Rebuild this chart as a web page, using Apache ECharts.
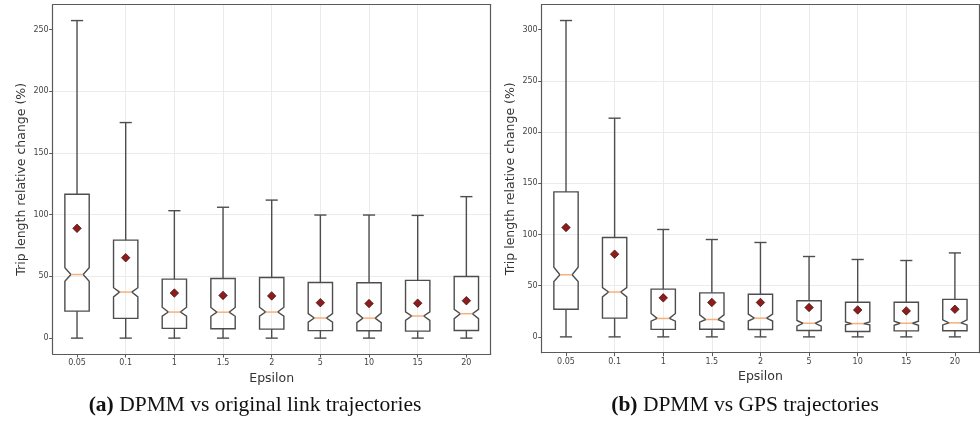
<!DOCTYPE html>
<html>
<head>
<meta charset="utf-8">
<script src="https://cdn.jsdelivr.net/npm/echarts@6/dist/echarts.min.js"></script>
<style>html,body{margin:0;padding:0;background:#fff;}#c{width:980px;height:421px;}</style>
</head>
<body>
<div id="c"></div>
<script>
const categories = ['0.05', '0.1', '1', '1.5', '2', '5', '10', '15', '20'];
const yTicksA = [0, 50, 100, 150, 200, 250];
const yTicksB = [0, 50, 100, 150, 200, 250, 300];

// Panel (a): DPMM vs original link trajectories
const lowA     = [0, 0, 0, 0, 0, 0, 0, 0, 0];
const q1A      = [21.9, 16.0, 7.9, 7.6, 7.3, 6.1, 6.0, 5.7, 6.2];
const notchLoA = [46.0, 33.4, 17.8, 17.7, 17.8, 13.0, 12.6, 14.4, 15.8];
const medianA  = [51.5, 37.3, 21.1, 21.0, 21.1, 16.3, 16.2, 17.9, 19.8];
const notchHiA = [57.0, 40.8, 25.0, 24.8, 25.0, 19.8, 20.3, 21.2, 23.3];
const q3A      = [116.5, 79.4, 47.8, 48.3, 49.1, 45.1, 44.9, 46.8, 49.9];
const highA    = [257.2, 174.6, 103.2, 106.0, 111.8, 99.7, 99.7, 99.4, 114.6];
const meanA    = [88.9, 65.1, 36.5, 34.6, 34.2, 28.7, 28.0, 28.3, 30.3];

// Panel (b): DPMM vs GPS trajectories
const lowB     = [0, 0, 0, 0, 0, 0, 0, 0, 0];
const q1B      = [27.0, 18.3, 7.3, 7.4, 7.2, 6.2, 5.3, 5.9, 6.0];
const notchLoB = [54.0, 39.0, 15.3, 14.4, 15.5, 10.5, 11.7, 11.4, 11.7];
const medianB  = [60.7, 43.8, 18.0, 17.0, 18.3, 13.3, 13.0, 13.3, 13.7];
const notchHiB = [68.0, 48.2, 22.8, 21.5, 22.3, 16.0, 14.6, 15.3, 16.6];
const q3B      = [141.6, 97.0, 46.6, 43.0, 41.6, 35.3, 33.8, 33.8, 36.6];
const highB    = [309.0, 213.6, 104.9, 95.1, 92.2, 78.5, 75.6, 74.6, 82.0];
const meanB    = [106.8, 80.8, 38.1, 33.6, 33.6, 28.7, 26.3, 25.4, 27.0];

const LINE = '#4d4d4d';
const FRAME = '#5a5a5a';
const GRIDC = '#ebebeb';
const MEDC = '#f7b07a';
const SANS = 'DejaVu Sans';
const SERIF = 'Liberation Serif';

function boxData(low, q1, nlo, med, nhi, q3, high) {
  return categories.map((_, i) => [i + 1, low[i], q1[i], nlo[i], med[i], nhi[i], q3[i], high[i]]);
}
function meanData(mean) { return categories.map((_, i) => [i + 1, mean[i]]); }
function extent(low, high) {
  const lo = Math.min(...low), hi = Math.max(...high), r = hi - lo;
  return [lo - 0.05 * r, hi + 0.05 * r];
}

function renderBox(params, api) {
  const x = api.value(0);
  const c = v => api.coord([x, v]);
  const w = api.size([0.5, 0])[0];
  const h = w / 2, qw = w / 4;
  const cx = c(api.value(4))[0];
  const yLow = c(api.value(1))[1], yQ1 = c(api.value(2))[1], yNlo = c(api.value(3))[1];
  const yMed = c(api.value(4))[1], yNhi = c(api.value(5))[1], yQ3 = c(api.value(6))[1];
  const yHigh = c(api.value(7))[1];
  const xl = cx - h, xr = cx + h;
  const pts = [[xl, yQ1], [xl, yNlo], [cx - qw, yMed], [xl, yNhi], [xl, yQ3],
               [xr, yQ3], [xr, yNhi], [cx + qw, yMed], [xr, yNlo], [xr, yQ1]];
  const ls = { stroke: LINE, lineWidth: 1.4, fill: null };
  return {
    type: 'group',
    children: [
      { type: 'polygon', shape: { points: pts }, style: ls },
      { type: 'line', shape: { x1: cx, y1: yQ1, x2: cx, y2: yLow }, style: ls },
      { type: 'line', shape: { x1: cx, y1: yQ3, x2: cx, y2: yHigh }, style: ls },
      { type: 'line', shape: { x1: cx - qw, y1: yLow, x2: cx + qw, y2: yLow }, style: ls },
      { type: 'line', shape: { x1: cx - qw, y1: yHigh, x2: cx + qw, y2: yHigh }, style: ls },
      { type: 'line', shape: { x1: cx - qw, y1: yMed, x2: cx + qw, y2: yMed }, style: { stroke: MEDC, lineWidth: 1.5 } }
    ]
  };
}

function mainX(gi) {
  return {
    type: 'value', gridIndex: gi, min: 0.5, max: 9.5, splitNumber: 9, minInterval: 1, maxInterval: 1,
    axisLine: { show: true, onZero: false, lineStyle: { color: FRAME, width: 1.2 } },
    axisTick: { show: true, length: 3.5, customValues: categories.map((_, i) => i + 1), lineStyle: { color: FRAME } },
    axisLabel: {
      customValues: categories.map((_, i) => i + 1),
      formatter: v => (Math.abs(v - Math.round(v)) < 1e-6 ? categories[Math.round(v) - 1] || '' : ''),
      fontFamily: SANS, fontSize: 8, color: '#444', margin: 5
    },
    splitLine: { show: true, showMinLine: false, showMaxLine: false, lineStyle: { color: GRIDC, width: 1 } },
    name: 'Epsilon', nameLocation: 'middle', nameGap: 12,
    nameTextStyle: { fontFamily: SANS, fontSize: 12.5, color: '#333' }, z: 3
  };
}
function mainY(gi, ext, ticks) {
  return {
    type: 'value', gridIndex: gi, min: ext[0], max: ext[1], minInterval: 50, maxInterval: 50,
    axisLine: { show: true, onZero: false, lineStyle: { color: FRAME, width: 1.2 } },
    axisTick: { show: true, length: 3.5, customValues: ticks, lineStyle: { color: FRAME } },
    axisLabel: {
      customValues: ticks,
      formatter: v => (Math.abs(v % 50) < 1e-6 ? String(v) : ''),
      fontFamily: SANS, fontSize: 8, color: '#444', margin: 4
    },
    splitLine: { show: true, showMinLine: false, showMaxLine: false, lineStyle: { color: GRIDC, width: 1 } },
    name: 'Trip length relative change (%)', nameLocation: 'middle', nameGap: 24,
    nameTextStyle: { fontFamily: SANS, fontSize: 12.5, color: '#333' }, z: 3
  };
}
function frameX(gi) {
  return { type: 'value', gridIndex: gi, position: 'top', min: 0.5, max: 9.5, z: 3,
    axisLine: { show: true, onZero: false, lineStyle: { color: FRAME, width: 1.2 } },
    axisTick: { show: false }, axisLabel: { show: false }, splitLine: { show: false } };
}
function frameY(gi, ext) {
  return { type: 'value', gridIndex: gi, position: 'right', min: ext[0], max: ext[1], z: 3,
    axisLine: { show: true, onZero: false, lineStyle: { color: FRAME, width: 1.2 } },
    axisTick: { show: false }, axisLabel: { show: false }, splitLine: { show: false } };
}

const extA = extent(lowA, highA);
const extB = extent(lowB, highB);

const chart = echarts.init(document.getElementById('c'), null, { renderer: 'canvas' });
chart.setOption({
  animation: false,
  backgroundColor: '#fff',
  grid: [
    { left: 52.7, top: 4.7, width: 438, height: 349.3 },
    { left: 541.7, top: 4.7, width: 437.5, height: 348 }
  ],
  xAxis: [mainX(0), mainX(1), frameX(0), frameX(1)],
  yAxis: [mainY(0, extA, yTicksA), mainY(1, extB, yTicksB), frameY(0, extA), frameY(1, extB)],
  series: [
    { type: 'custom', xAxisIndex: 0, yAxisIndex: 0, renderItem: renderBox,
      encode: { x: 0, y: [1, 2, 3, 4, 5, 6, 7] }, data: boxData(lowA, q1A, notchLoA, medianA, notchHiA, q3A, highA), z: 4 },
    { type: 'custom', xAxisIndex: 1, yAxisIndex: 1, renderItem: renderBox,
      encode: { x: 0, y: [1, 2, 3, 4, 5, 6, 7] }, data: boxData(lowB, q1B, notchLoB, medianB, notchHiB, q3B, highB), z: 4 },
    { type: 'scatter', xAxisIndex: 0, yAxisIndex: 0, data: meanData(meanA), symbol: 'diamond', symbolSize: 8.5,
      itemStyle: { color: '#8e1c1c', borderColor: '#3a0808', borderWidth: 0.7, opacity: 1 }, z: 5 },
    { type: 'scatter', xAxisIndex: 1, yAxisIndex: 1, data: meanData(meanB), symbol: 'diamond', symbolSize: 8.5,
      itemStyle: { color: '#8e1c1c', borderColor: '#3a0808', borderWidth: 0.7, opacity: 1 }, z: 5 }
  ],
  graphic: [
    { type: 'text', x: 255, y: 405, style: { text: '{b|(a)} DPMM vs original link trajectories', align: 'center', verticalAlign: 'middle',
      fontFamily: SERIF, fontSize: 21.5, fill: '#111',
      rich: { b: { fontWeight: 'bold', fontFamily: SERIF, fontSize: 21.5, fill: '#111' } } } },
    { type: 'text', x: 745, y: 405, style: { text: '{b|(b)} DPMM vs GPS trajectories', align: 'center', verticalAlign: 'middle',
      fontFamily: SERIF, fontSize: 21.5, fill: '#111',
      rich: { b: { fontWeight: 'bold', fontFamily: SERIF, fontSize: 21.5, fill: '#111' } } } }
  ]
});
</script>
</body>
</html>
